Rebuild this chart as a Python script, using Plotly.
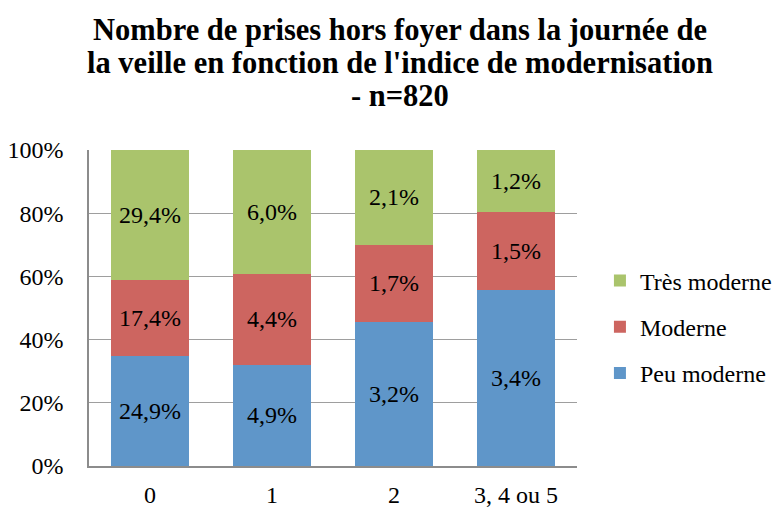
import plotly.graph_objects as go

# Share of all respondents (n=820) per modernisation index and profile
categories = ["0", "1", "2", "3, 4 ou 5"]
peu_moderne = [24.9, 4.9, 3.2, 3.4]
moderne = [17.4, 4.4, 1.7, 1.5]
tres_moderne = [29.4, 6.0, 2.1, 1.2]

# (name, values, colour, legend position from the top)
series = [
    ("Peu moderne", peu_moderne, "#5F96C9", 3),
    ("Moderne", moderne, "#CD6560", 2),
    ("Très moderne", tres_moderne, "#AAC46C", 1),
]

title_lines = [
    "Nombre de prises hors foyer dans la journée de",
    "la veille en fonction de l'indice de modernisation",
    "- n=820",
]

FONT = "Liberation Serif"
W, H = 782, 514
M = dict(l=89, r=205, t=150, b=48, autoexpand=False)

fig = go.Figure()
for name, vals, color, rank in series:
    fig.add_trace(go.Bar(
        x=categories,
        y=vals,
        name=name,
        legendgroup=name,
        legendrank=rank,
        marker=dict(color=color, line=dict(width=0)),
        text=[f"{v:.1f}%".replace(".", ",") for v in vals],
        textposition="inside",
        insidetextanchor="middle",
        textangle=0,
        textfont=dict(family=FONT, size=24, color="black"),
        hoverinfo="skip",
    ))

# Title drawn line by line so the spacing between lines stays tight
plot_h = H - M["t"] - M["b"]
plot_w = W - M["l"] - M["r"]
for i, line in enumerate(title_lines):
    py = 30 + 33 * i
    fig.add_annotation(
        text=f"<b>{line}</b>",
        xref="paper", yref="paper",
        x=(400 - M["l"]) / plot_w,
        y=(H - M["b"] - py) / plot_h,
        xanchor="center", yanchor="middle",
        showarrow=False,
        font=dict(family=FONT, size=30.5, color="black"),
    )

fig.update_layout(
    barmode="stack",
    barnorm="percent",
    bargap=0.36,
    width=W,
    height=H,
    margin=M,
    paper_bgcolor="white",
    plot_bgcolor="white",
    font=dict(family=FONT, size=24, color="black"),
    legend=dict(
        x=1.047, xanchor="left",
        y=0.44, yanchor="middle",
        traceorder="grouped",
        tracegroupgap=12,
        font=dict(family=FONT, size=24),
        itemwidth=30,
    ),
    uniformtext=dict(minsize=10, mode="show"),
)

fig.update_xaxes(
    automargin=False,
    showline=True, linecolor="#8C8C8C", linewidth=1.5,
    ticks="", ticklabelstandoff=6,
    tickfont=dict(family=FONT, size=24),
)
fig.update_yaxes(
    automargin=False,
    range=[0, 100],
    tickvals=[0, 20, 40, 60, 80, 100],
    ticktext=["0%", "20%", "40%", "60%", "80%", "100%"],
    showgrid=True, gridcolor="#9E9E9E", gridwidth=1.2,
    showline=True, linecolor="#8C8C8C", linewidth=1.5,
    ticks="", ticklabelstandoff=19,
    tickfont=dict(family=FONT, size=24),
    zeroline=False,
)

fig.write_html("out.html")
